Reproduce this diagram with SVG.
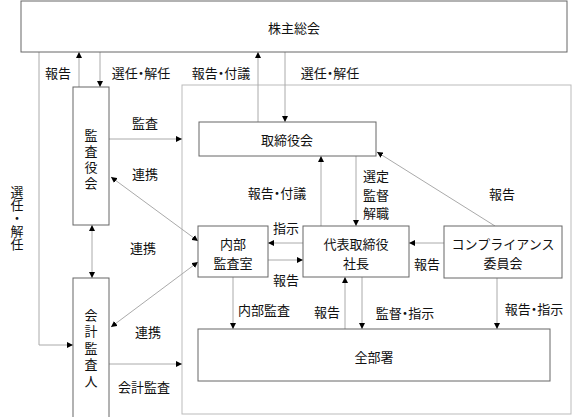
<svg xmlns="http://www.w3.org/2000/svg" width="578" height="417" viewBox="0 0 578 417">
<defs>
<style>
.bx{fill:#fff;stroke:#666;stroke-width:1}
.ln{fill:none;stroke:#aaa;stroke-width:1}
.t{font-family:"Noto Sans CJK JP","Noto Sans",sans-serif;font-size:13px;fill:#111;text-anchor:middle;dominant-baseline:central}
.h{font-feature-settings:"halt"}
.v{writing-mode:vertical-rl}
</style>
<marker id="ah" viewBox="0 0 10 10" refX="10" refY="5" markerWidth="6" markerHeight="6" markerUnits="userSpaceOnUse" orient="auto-start-reverse">
<path d="M0,0 L10,5 L0,10 z" fill="#000"/>
</marker>
</defs>
<rect x="0" y="0" width="578" height="417" fill="#fff"/>
<rect id="frame" x="182" y="85" width="389" height="329" fill="none" stroke="#bbb" stroke-width="1"/>
<g id="connectors">
<path class="ln" d="M79,87 V52" marker-end="url(#ah)"/>
<path class="ln" d="M100,52 V87" marker-end="url(#ah)"/>
<path class="ln" d="M39,52 V345 H73" marker-end="url(#ah)"/>
<path class="ln" d="M258,122 V52" marker-end="url(#ah)"/>
<path class="ln" d="M285,52 V122" marker-end="url(#ah)"/>
<path class="ln" d="M109,139 H182" marker-end="url(#ah)"/>
<path class="ln" d="M111,177 L198,241" marker-start="url(#ah)" marker-end="url(#ah)"/>
<path class="ln" d="M92,225 V278" marker-start="url(#ah)" marker-end="url(#ah)"/>
<path class="ln" d="M111,327 L198,262" marker-start="url(#ah)" marker-end="url(#ah)"/>
<path class="ln" d="M109,364 H182" marker-end="url(#ah)"/>
<path class="ln" d="M233,277 V329" marker-end="url(#ah)"/>
<path class="ln" d="M303,243 H268" marker-end="url(#ah)"/>
<path class="ln" d="M268,260 H303" marker-end="url(#ah)"/>
<path class="ln" d="M321,226 V156" marker-end="url(#ah)"/>
<path class="ln" d="M356,156 V226" marker-end="url(#ah)"/>
<path class="ln" d="M495,226 L377,152" marker-end="url(#ah)"/>
<path class="ln" d="M444,243 H409" marker-end="url(#ah)"/>
<path class="ln" d="M345,329 V277" marker-end="url(#ah)"/>
<path class="ln" d="M362,277 V329" marker-end="url(#ah)"/>
<path class="ln" d="M497,278 V329" marker-end="url(#ah)"/>
<text class="t" x="58" y="72">報告</text>
<text class="t h" x="141" y="72">選任・解任</text>
<text class="t h" x="221" y="72">報告・付議</text>
<text class="t h" x="330" y="72">選任・解任</text>
<text class="t v" x="17" y="218">選任・解任</text>
<text class="t" x="145" y="122">監査</text>
<text class="t" x="145" y="173">連携</text>
<text class="t" x="143" y="247">連携</text>
<text class="t" x="148" y="331">連携</text>
<text class="t" x="144" y="386">会計監査</text>
<text class="t h" x="277" y="192">報告・付議</text>
<text class="t"><tspan x="376" y="175">選定</tspan><tspan x="376" y="194">監督</tspan><tspan x="376" y="212">解職</tspan></text>
<text class="t" x="502" y="193">報告</text>
<text class="t" x="286" y="227">指示</text>
<text class="t" x="286" y="279">報告</text>
<text class="t" x="427" y="263">報告</text>
<text class="t" x="264" y="309">内部監査</text>
<text class="t" x="327" y="311">報告</text>
<text class="t h" x="405" y="312">監督・指示</text>
<text class="t h" x="534" y="308">報告・指示</text>
</g>
<g id="n-shareholders">
<rect class="bx" x="21" y="1" width="546" height="51"/>
<text class="t" x="294" y="27">株主総会</text>
</g>
<g id="n-auditboard">
<rect class="bx" x="73" y="87" width="36" height="138"/>
<text class="t v" x="91" y="160.5" letter-spacing="3">監査役会</text>
</g>
<g id="n-accountant">
<rect class="bx" x="73" y="278" width="36" height="140"/>
<text class="t v" x="91" y="349.5" letter-spacing="3.5">会計監査人</text>
</g>
<g id="n-board">
<rect class="bx" x="199" y="122" width="177" height="34"/>
<text class="t" x="287" y="139">取締役会</text>
</g>
<g id="n-internalaudit">
<rect class="bx" x="198" y="226" width="70" height="51"/>
<text class="t"><tspan x="233" y="243">内部</tspan><tspan x="233" y="262">監査室</tspan></text>
</g>
<g id="n-president">
<rect class="bx" x="303" y="226" width="106" height="51"/>
<text class="t"><tspan x="356" y="243">代表取締役</tspan><tspan x="356" y="262">社長</tspan></text>
</g>
<g id="n-compliance">
<rect class="bx" x="444" y="226" width="118" height="52"/>
<text class="t"><tspan x="503" y="243">コンプライアンス</tspan><tspan x="503" y="262">委員会</tspan></text>
</g>
<g id="n-alldepts">
<rect class="bx" x="198" y="329" width="352" height="52"/>
<text class="t" x="374" y="356">全部署</text>
</g>
</svg>
